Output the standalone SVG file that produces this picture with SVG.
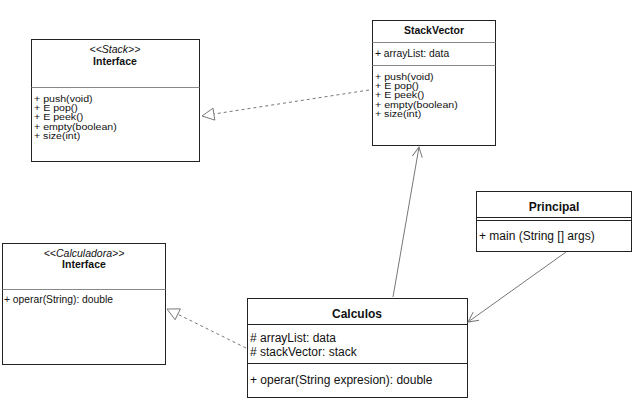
<svg xmlns="http://www.w3.org/2000/svg" width="639" height="403" viewBox="0 0 639 403">
<style>
.box{fill:#fff;stroke:#222;stroke-width:1}
.div{stroke:#888;stroke-width:1}
.divd{stroke:#222;stroke-width:1}
text{font-family:"Liberation Sans",Arial,sans-serif;fill:#111}
.t{font-size:10.5px;font-weight:bold;text-anchor:middle}
.st{font-size:10.5px;font-style:italic;text-anchor:middle}
.m{font-size:8.4px}
.m2{font-size:10.3px}
.tb{font-size:12px;font-weight:bold;text-anchor:middle}
.mb{font-size:12px}
.conn{fill:none;stroke:#777;stroke-width:1}
.dash{stroke-dasharray:3,3}
.tri{fill:#fff;stroke:#777;stroke-width:1}
</style>
<defs>
<marker id="open" markerUnits="userSpaceOnUse" markerWidth="12" markerHeight="12" refX="11" refY="6" orient="auto">
<path d="M1,1 L11,6 L1,11" fill="none" stroke="#777" stroke-width="1"/>
</marker>
</defs>
<g id="stack-interface">
<rect class="box" x="31.5" y="39.5" width="168" height="122"/>
<text class="st" x="115" y="53">&lt;&lt;Stack&gt;&gt;</text>
<text class="t" x="115" y="65">Interface</text>
<line class="div" x1="31.5" y1="87.5" x2="199.5" y2="87.5"/>
<text class="m" x="34" y="101.5" textLength="58.6" lengthAdjust="spacingAndGlyphs">+ push(void)</text>
<text class="m" x="34" y="110.9" textLength="43.9" lengthAdjust="spacingAndGlyphs">+ E pop()</text>
<text class="m" x="34" y="120.3" textLength="49.2" lengthAdjust="spacingAndGlyphs">+ E peek()</text>
<text class="m" x="34" y="129.7" textLength="82.8" lengthAdjust="spacingAndGlyphs">+ empty(boolean)</text>
<text class="m" x="34" y="139.1" textLength="46.2" lengthAdjust="spacingAndGlyphs">+ size(int)</text>
</g>
<g id="stackvector">
<rect class="box" x="372.5" y="20.5" width="123" height="125"/>
<text class="t" x="434" y="34">StackVector</text>
<line class="div" x1="372.5" y1="42.5" x2="495.5" y2="42.5"/>
<text class="m2" x="375" y="57">+ arrayList: data</text>
<line class="div" x1="372.5" y1="65.5" x2="495.5" y2="65.5"/>
<text class="m" x="375" y="79.5" textLength="58.6" lengthAdjust="spacingAndGlyphs">+ push(void)</text>
<text class="m" x="375" y="88.9" textLength="43.9" lengthAdjust="spacingAndGlyphs">+ E pop()</text>
<text class="m" x="375" y="98.3" textLength="49.2" lengthAdjust="spacingAndGlyphs">+ E peek()</text>
<text class="m" x="375" y="107.7" textLength="82.8" lengthAdjust="spacingAndGlyphs">+ empty(boolean)</text>
<text class="m" x="375" y="117.1" textLength="46.2" lengthAdjust="spacingAndGlyphs">+ size(int)</text>
</g>
<g id="calculadora-interface">
<rect class="box" x="2.5" y="243.5" width="163" height="121"/>
<text class="st" x="84" y="257">&lt;&lt;Calculadora&gt;&gt;</text>
<text class="t" x="84" y="268">Interface</text>
<line class="div" x1="2.5" y1="289.5" x2="165.5" y2="289.5"/>
<text class="m2" x="4" y="303">+ operar(String): double</text>
</g>
<g id="calculos">
<rect class="box" x="247.5" y="298.5" width="220" height="99"/>
<text class="tb" x="357" y="318">Calculos</text>
<line class="divd" x1="247.5" y1="324.5" x2="467.5" y2="324.5"/>
<text class="mb" x="250" y="342"># arrayList: data</text>
<text class="mb" x="250" y="356"># stackVector: stack</text>
<line class="divd" x1="247.5" y1="363.5" x2="467.5" y2="363.5"/>
<text class="mb" x="250" y="384">+ operar(String expresion): double</text>
</g>
<g id="principal">
<rect class="box" x="476.5" y="191.5" width="155" height="60"/>
<text class="tb" x="554" y="211">Principal</text>
<line class="divd" x1="476.5" y1="217.5" x2="631.5" y2="217.5"/>
<line class="divd" x1="476.5" y1="220.5" x2="631.5" y2="220.5"/>
<text class="mb" x="479" y="240">+ main (String [] args)</text>
</g>
<g id="connectors">
<line class="conn dash" x1="369" y1="90" x2="214" y2="114"/>
<polygon class="tri" points="202,116 214.8,120.1 213,108.2"/>
<line class="conn dash" x1="246" y1="348" x2="178" y2="314.3"/>
<polygon class="tri" points="167,309 180.4,308.9 175.1,319.7"/>
<line class="conn" x1="393" y1="297" x2="419" y2="147" marker-end="url(#open)"/>
<line class="conn" x1="566" y1="252" x2="468" y2="322" marker-end="url(#open)"/>
</g>
</svg>
